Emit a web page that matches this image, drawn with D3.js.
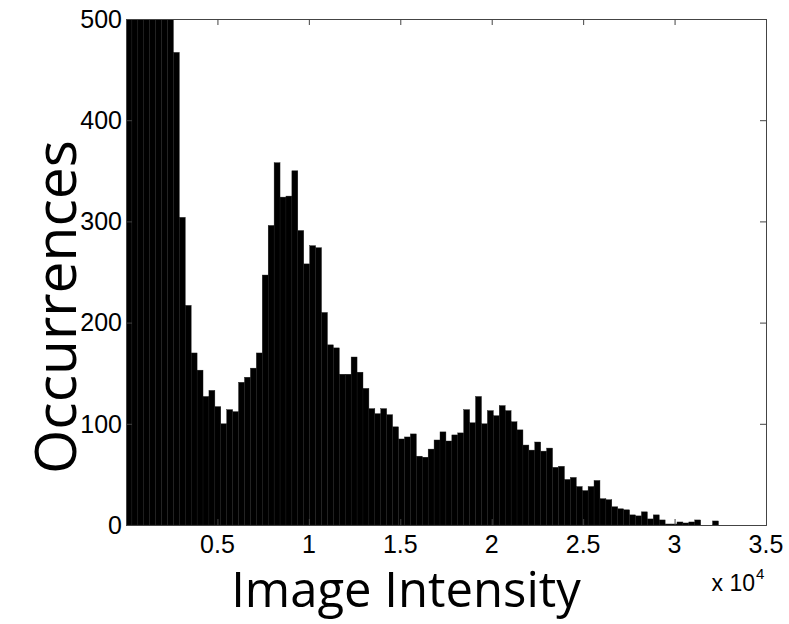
<!DOCTYPE html>
<html>
<head>
  <meta charset="UTF-8" />
  <title>Image Intensity Histogram</title>
  <script src="https://cdn.jsdelivr.net/npm/d3@7"></script>
  <style>
    body {
      margin: 0;
      padding: 0;
      background-color: white;
    }
    #chart svg {
      display: block;
    }
    .tick-label {
      font-family: 'Liberation Sans', Arial, sans-serif;
      font-size: 25px;
      fill: black;
    }
    .axis-title {
      font-family: 'Open Sans', sans-serif;
      fill: black;
    }
  </style>
</head>
<body>
  <div id="chart"></div>

<script>
  // Histogram counts, 100 bins (the first few go off the top of the axes)
  const counts = [
    2600, 1900, 1450, 1150, 900, 720, 610, 540, 467, 304,
    217, 170, 153, 127, 133, 117, 100, 114, 112, 141,
    146, 155, 170, 247, 296, 358, 324, 325, 350, 291,
    258, 276, 274, 210, 178, 175, 149, 149, 166, 151,
    135, 115, 110, 115, 109, 97, 85, 87, 90, 68,
    67, 75, 84, 92, 83, 89, 91, 114, 101, 127,
    100, 113, 108, 118, 113, 102, 94, 79, 74, 82,
    73, 76, 57, 58, 45, 47, 38, 34, 38, 44,
    26, 25, 18, 16, 15, 10, 9, 13, 6, 10,
    5, 1, 1, 3, 2, 3, 5, 0, 0, 4,
  ]
  // width of one bin in intensity units
  const binWidth = 324

  // Tick values and labels
  const xTicks = [0, 5000, 10000, 15000, 20000, 25000, 30000, 35000]
  const xTickLabels = ['', '0.5', '1', '1.5', '2', '2.5', '3', '3.5']
  const yTicks = [0, 100, 200, 300, 400, 500]

  const width = 789
  const height = 624
  const plot = { left: 126, right: 766, top: 19, bottom: 525 }

  const svg = d3
    .select('#chart')
    .append('svg')
    .attr('width', width)
    .attr('height', height)

  svg.append('rect')
    .attr('width', width)
    .attr('height', height)
    .attr('fill', 'white')

  const x = d3.scaleLinear().domain([0, 35000]).range([plot.left, plot.right])
  const y = d3.scaleLinear().domain([0, 500]).range([plot.bottom, plot.top])

  // clip the tall bars at the top of the axes
  svg.append('clipPath')
    .attr('id', 'plot-clip')
    .append('rect')
    .attr('x', plot.left)
    .attr('y', plot.top)
    .attr('width', plot.right - plot.left)
    .attr('height', plot.bottom - plot.top)

  // Bars
  svg.append('g')
    .attr('clip-path', 'url(#plot-clip)')
    .selectAll('rect')
    .data(counts)
    .enter()
    .append('rect')
    .attr('x', (d, i) => x(i * binWidth))
    .attr('width', (d, i) => x((i + 1) * binWidth) - x(i * binWidth))
    .attr('y', (d) => y(d))
    .attr('height', (d) => y(0) - y(d))
    .attr('fill', 'black')
    .attr('stroke', '#1a1a1a')
    .attr('stroke-width', 0.4)

  // Axes box with inward ticks on all four sides (matlab style)
  const tickLen = 6
  const axisColor = '#444'

  const bottomAxis = d3.axisBottom(x).tickValues(xTicks).tickSize(-tickLen).tickFormat('')
  const topAxis = d3.axisTop(x).tickValues(xTicks).tickSize(-tickLen).tickFormat('')
  const leftAxis = d3.axisLeft(y).tickValues(yTicks).tickSize(-tickLen).tickFormat('')
  const rightAxis = d3.axisRight(y).tickValues(yTicks).tickSize(-tickLen).tickFormat('')

  const axes = [
    [bottomAxis, `translate(0,${plot.bottom})`],
    [topAxis, `translate(0,${plot.top})`],
    [leftAxis, `translate(${plot.left},0)`],
    [rightAxis, `translate(${plot.right},0)`],
  ]
  axes.forEach(([axis, transform]) => {
    const g = svg.append('g').attr('transform', transform).call(axis)
    g.selectAll('path, line').attr('stroke', axisColor).attr('stroke-width', 1)
  })

  // X tick labels
  svg.append('g')
    .selectAll('text')
    .data(xTicks)
    .enter()
    .append('text')
    .attr('class', 'tick-label')
    .attr('x', (d) => x(d))
    .attr('y', 553)
    .attr('text-anchor', 'middle')
    .text((d, i) => xTickLabels[i])

  // Y tick labels
  svg.append('g')
    .selectAll('text')
    .data(yTicks)
    .enter()
    .append('text')
    .attr('class', 'tick-label')
    .attr('x', plot.left - 4)
    .attr('y', (d) => y(d))
    .attr('dy', '0.35em')
    .attr('text-anchor', 'end')
    .text((d) => d)

  // exponent note under the x axis
  svg.append('text')
    .attr('class', 'tick-label')
    .attr('x', 755)
    .attr('y', 591)
    .attr('text-anchor', 'end')
    .style('font-size', '23px')
    .text('x 10')
  svg.append('text')
    .attr('class', 'tick-label')
    .attr('x', 756)
    .attr('y', 579)
    .style('font-size', '15px')
    .text('4')

  // Axis titles
  svg.append('text')
    .attr('class', 'axis-title')
    .attr('x', (plot.left + plot.right) / 2 - 40)
    .attr('y', 607)
    .attr('text-anchor', 'middle')
    .style('font-size', '49px')
    .text('Image Intensity')

  svg.append('text')
    .attr('class', 'axis-title')
    .attr('transform', 'translate(76,307) rotate(-90)')
    .attr('text-anchor', 'middle')
    .style('font-size', '57px')
    .text('Occurrences')
</script>
</body>
</html>
